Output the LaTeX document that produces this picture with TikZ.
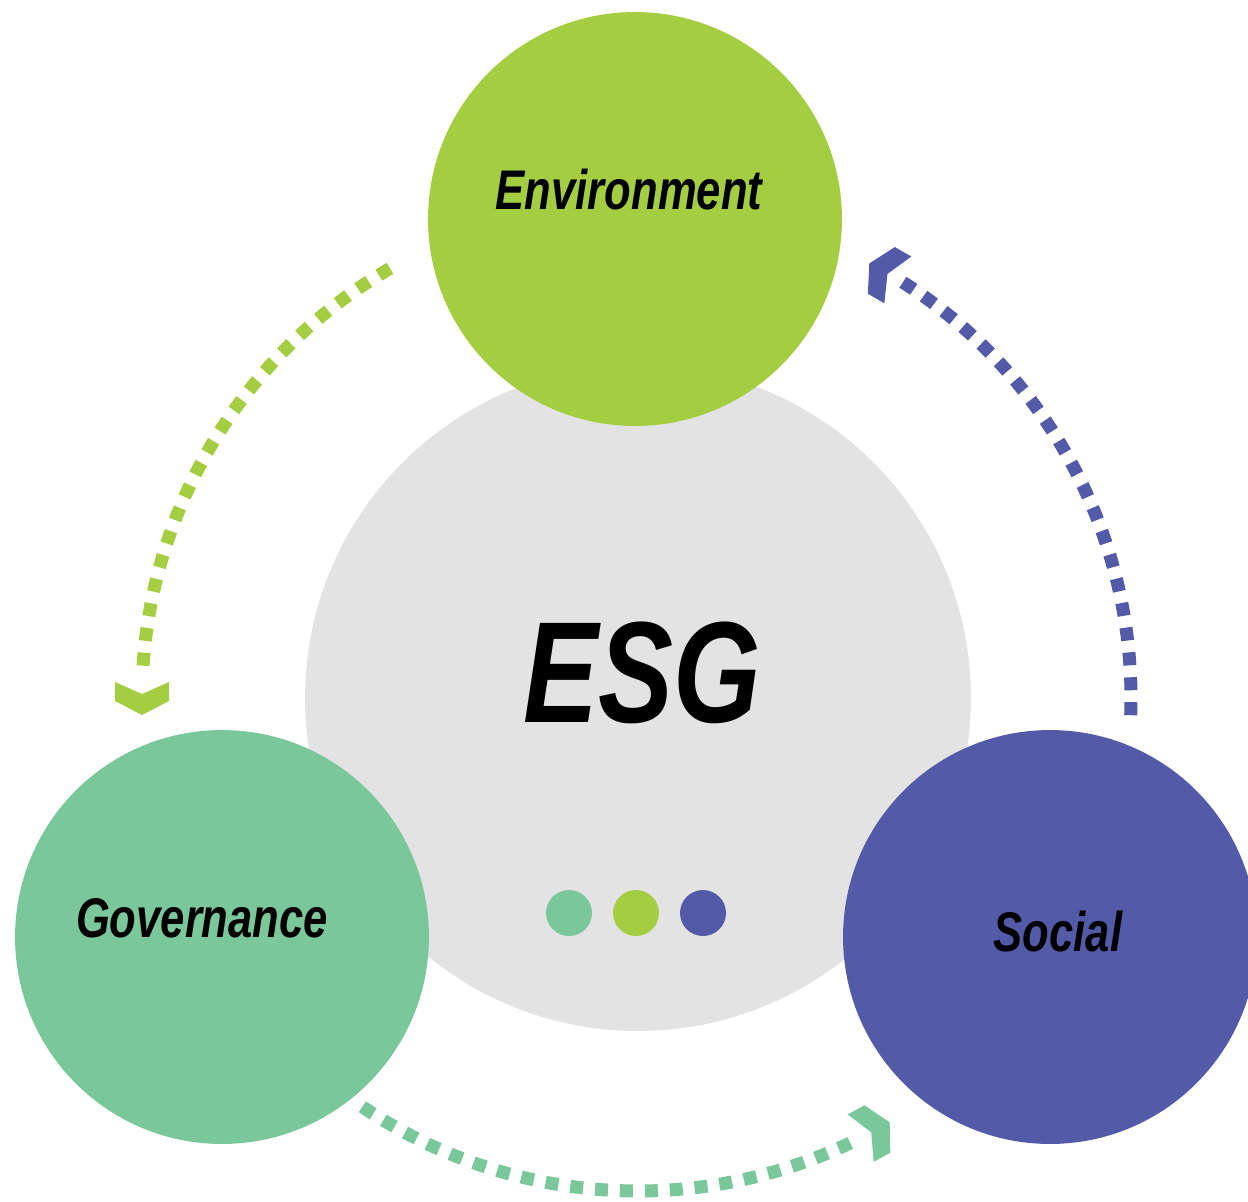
\documentclass[tikz,border=0pt]{standalone}
\usepackage{fontspec}
\usetikzlibrary{calc}
\newfontfamily\labfont{Liberation Sans}[FakeStretch=0.78]
\definecolor{envgreen}{HTML}{A5CD42}
\definecolor{govteal}{HTML}{79C79B}
\definecolor{socblue}{HTML}{535AA8}
\definecolor{esggray}{HTML}{E3E3E3}
\tikzset{
	pillar/.style={circle, minimum size=8.28cm, inner sep=0pt},
	pillartext/.style={font=\labfont\bfseries\itshape\fontsize{31.8}{36}\selectfont},
	dot/.style={circle, minimum size=0.92cm, inner sep=0pt},
	cycleflow/.style={line width=7.4pt, dash pattern=on 7.4pt off 6.8pt},
	chevron/.pic={\fill (-16,27) -- (-4,0) -- (-16,-27) -- (3,-27) -- (17,0) -- (3,27) -- cycle;}
}
\begin{document}
\begin{tikzpicture}[x=0.02cm, y=0.02cm]
		\useasboundingbox (0,0) rectangle (1248,-1201);
		\clip (0,0) rectangle (1248,-1201);
		% centre
		\node[circle, fill=esggray, minimum size=13.32cm, inner sep=0pt] (esg) at (638,-698) {};
		\node[font=\labfont\bfseries\itshape\fontsize{82}{90}\selectfont] (esgtext) at (642,-673) {ESG};
		% three pillars
		\node[pillar, fill=envgreen] (env) at (635,-219) {};
		\node[pillar, fill=govteal] (gov) at (222,-937) {};
		\node[pillar, fill=socblue] (soc) at (1050,-937) {};
		\node[pillartext] at (629,-190) {Environment};
		\node[pillartext] at (202,-918) {Governance};
		\node[pillartext] at (1058,-932) {Social};
		% dots
		\node[dot, fill=govteal] (d1) at (569,-913) {};
		\node[dot, fill=envgreen] (d2) at (636,-913) {};
		\node[dot, fill=socblue] (d3) at (703,-913) {};
		% arrows round the centre
		\draw[cycleflow, envgreen] (esg.center) ++(120:496) arc[start angle=120, end angle=177.5, radius=496];
		\pic[envgreen, rotate=270] at ($(esg.center)+(180:496)$) {chevron};
		\draw[cycleflow, socblue] (esg.center) ++(-2:493) arc[start angle=-2, end angle=57.5, radius=493];
		\pic[socblue, rotate=150] at ($(esg.center)+(60:492)$) {chevron};
		\draw[cycleflow, govteal] (esg.center) ++(236:493) arc[start angle=236, end angle=296.5, radius=493];
		\pic[govteal, rotate=28.7] at ($(esg.center)+(298.7:493)$) {chevron};
	\end{tikzpicture}
\end{document}
